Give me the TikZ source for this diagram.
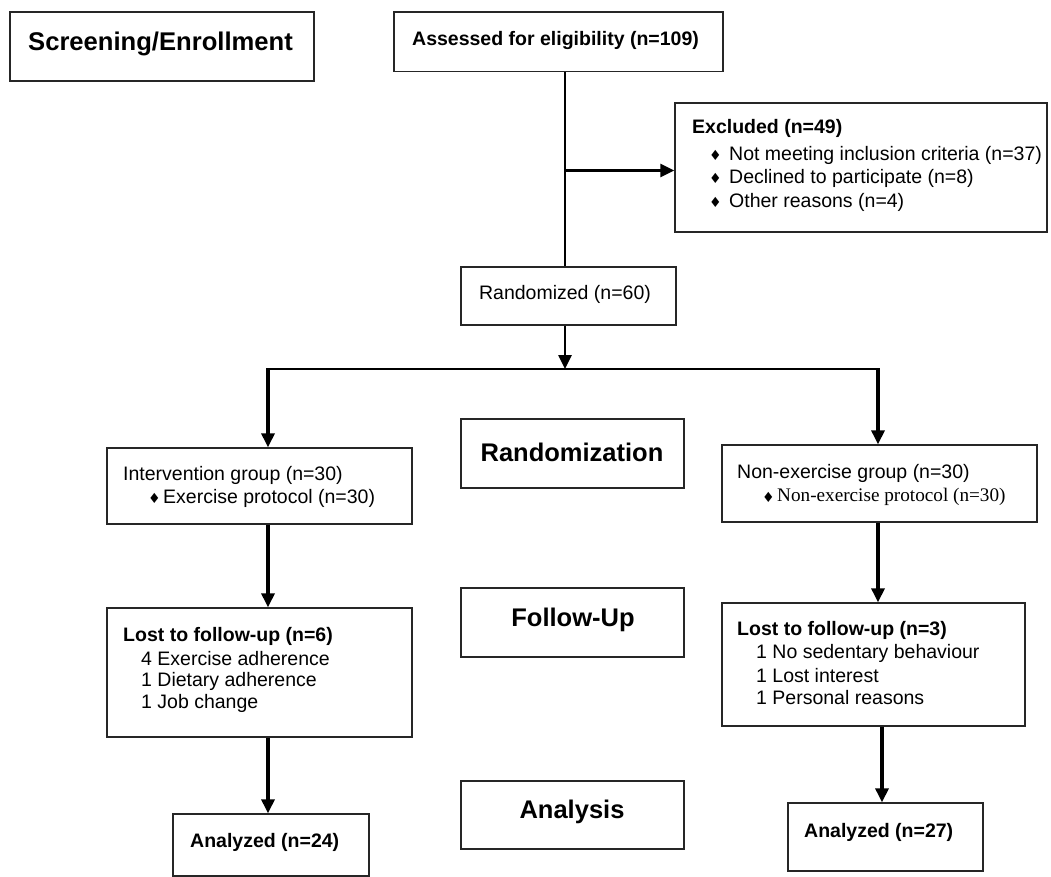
\documentclass[tikz,border=0pt]{standalone}
\usepackage{fontspec}
\setmainfont{Liberation Sans}
\newfontfamily\serifface{Liberation Serif}
\newfontfamily\symface{DejaVu Sans}
\usetikzlibrary{arrows.meta}
\newcommand{\dmd}{{\symface\fontsize{14}{14}\selectfont ♦}}
\begin{document}
\begin{tikzpicture}[x=1pt,y=-1pt,
  box/.style={draw=black!85, line width=1.3pt, inner sep=0pt, rectangle},
  txt/.style={inner sep=0pt, anchor=west, font=\fontsize{19.5}{22}\selectfont},
  hd/.style={inner sep=0pt, anchor=west, font=\fontsize{19.5}{22}\selectfont\bfseries},
  big/.style={inner sep=0pt, anchor=center, font=\fontsize{25.5}{28}\selectfont\bfseries},
  conn/.style={line width=2.6pt},
  arr/.style={line width=3.2pt, -{Triangle[length=14pt,width=13pt]}},
  split/.style={line width=1.5pt}
]
\useasboundingbox (0,0) rectangle (1051,877);

% boxes
\node[box, minimum width=304pt, minimum height=69pt] (screen) at (162,46.5) {};
\node[box, minimum width=329pt, minimum height=59.5pt] (assess) at (558.5,41.75) {};
\node[box, minimum width=372pt, minimum height=129pt] (excl) at (861,167.5) {};
\node[box, minimum width=215pt, minimum height=58pt] (rand) at (568.5,296) {};
\node[box, minimum width=305pt, minimum height=76pt] (interv) at (259.5,486) {};
\node[box, minimum width=223pt, minimum height=69pt] (randz) at (572.5,453.5) {};
\node[box, minimum width=315pt, minimum height=77pt] (nonex) at (879.5,483.5) {};
\node[box, minimum width=305pt, minimum height=129pt] (lostL) at (259.5,672.5) {};
\node[box, minimum width=223pt, minimum height=69pt] (follow) at (572.5,622.5) {};
\node[box, minimum width=303pt, minimum height=123pt] (lostR) at (873.5,664.5) {};
\node[box, minimum width=196pt, minimum height=62pt] (anaL) at (271,845) {};
\node[box, minimum width=223pt, minimum height=68pt] (analysis) at (572.5,815) {};
\node[box, minimum width=195pt, minimum height=68pt] (anaR) at (885.5,837) {};

% texts
\node[big, font=\fontsize{25.6}{28}\selectfont\bfseries] (tscreen) at (160.5,44) {Screening/Enrollment};
\node[hd] (tassess) at (412,41) {Assessed for eligibility (n=109)};
\node[hd] (texcl) at (692,128) {Excluded (n=49)};
\node[txt] (be1) at (709,155) {\dmd};
\node[txt] (te1) at (729,155) {Not meeting inclusion criteria (n=37)};
\node[txt] (be2) at (709,178) {\dmd};
\node[txt] (te2) at (729,178) {Declined to participate (n=8)};
\node[txt] (be3) at (709,202) {\dmd};
\node[txt] (te3) at (729,202) {Other reasons (n=4)};
\node[txt, anchor=center] (trand) at (565,294) {Randomized (n=60)};

\node[txt] (tint1) at (123,475) {Intervention group (n=30)};
\node[txt] (bint) at (148,498) {\dmd};
\node[txt] (tint2) at (163,498) {Exercise protocol (n=30)};
\node[big] (trandz) at (572,452) {Randomization};
\node[txt] (tnon1) at (737,473) {Non-exercise group (n=30)};
\node[txt] (bnon) at (762,497) {\dmd};
\node[txt, font=\fontsize{19.2}{22}\serifface] (tnon2) at (777,497) {Non-exercise protocol (n=30)};

\node[hd] (tlostL) at (123,636) {Lost to follow-up (n=6)};
\node[txt] (tl1) at (141,659) {4 Exercise adherence};
\node[txt] (tl2) at (141,681) {1 Dietary adherence};
\node[txt] (tl3) at (141,703) {1 Job change};
\node[big] (tfollow) at (573,620) {Follow-Up};
\node[hd] (tlostR) at (737,630) {Lost to follow-up (n=3)};
\node[txt] (tr1) at (756,653) {1 No sedentary behaviour};
\node[txt] (tr2) at (756,676) {1 Lost interest};
\node[txt] (tr3) at (756,698) {1 Personal reasons};

\node[hd] (tanaL) at (190,842) {Analyzed (n=24)};
\node[big] (tanalysis) at (572,812) {Analysis};
\node[hd] (tanaR) at (804,832) {Analyzed (n=27)};

% junctions
\coordinate (j1) at (565,170.5);
\coordinate (j2) at (565,369);
\coordinate (jL) at (268,369);
\coordinate (jR) at (878,369);
\coordinate (jR2) at (882,760);

% connectors
\draw[conn] (j1 |- assess.south) -- (j1 |- rand.north);
\draw[arr, line width=2.8pt] (j1) -- (j1 -| excl.west);
\draw[arr, line width=2.6pt] (j2 |- rand.south) -- (j2);
\draw[split] (jL) -- (jR);
\draw[arr] ([yshift=0.75pt]jL) -- (jL |- interv.north);
\draw[arr] ([yshift=0.75pt]jR) -- (jR |- nonex.north);
\draw[arr] (jL |- interv.south) -- (jL |- lostL.north);
\draw[arr] (jL |- lostL.south) -- (jL |- anaL.north);
\draw[arr] (jR |- nonex.south) -- (jR |- lostR.north);
\draw[arr] (jR2 |- lostR.south) -- (jR2 |- anaR.north);
\end{tikzpicture}
\end{document}
